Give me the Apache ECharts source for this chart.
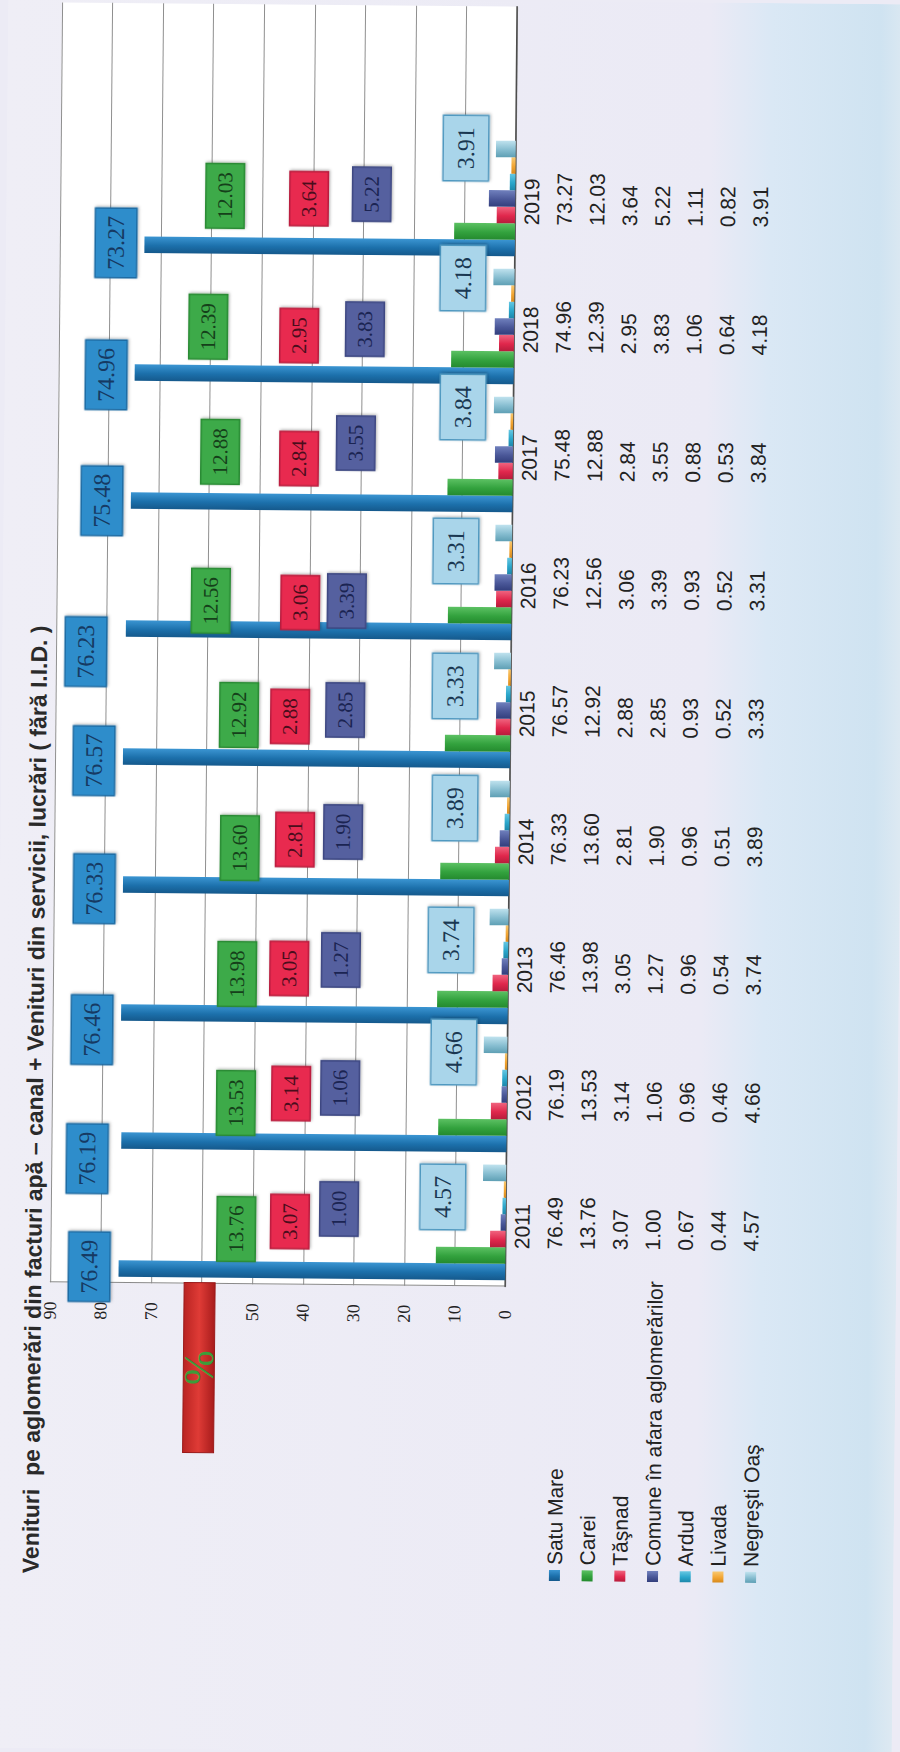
<!DOCTYPE html>
<html>
<head>
<meta charset="utf-8">
<script src="https://cdn.jsdelivr.net/npm/echarts@6/dist/echarts.min.js"></script>
<style>
  html, body { margin: 0; padding: 0; }
  body { width: 900px; height: 1752px; overflow: hidden; background: #ecebf5; position: relative; }
  /* the scanned page is turned on its side (and a hair off square) */
  #chart { position: absolute; left: 0; top: 0; width: 1752px; height: 900px;
           transform-origin: 0 0; transform: translate(-8.2px, 1747.8px) rotate(-89.465deg); }
</style>
</head>
<body>
<div id="chart"></div>
<script>
// ---------------- data ----------------
var years     = [2011, 2012, 2013, 2014, 2015, 2016, 2017, 2018, 2019];
var satuMare  = [76.49, 76.19, 76.46, 76.33, 76.57, 76.23, 75.48, 74.96, 73.27];
var carei     = [13.76, 13.53, 13.98, 13.60, 12.92, 12.56, 12.88, 12.39, 12.03];
var tasnad    = [3.07, 3.14, 3.05, 2.81, 2.88, 3.06, 2.84, 2.95, 3.64];
var comune    = [1.00, 1.06, 1.27, 1.90, 2.85, 3.39, 3.55, 3.83, 5.22];
var ardud     = [0.67, 0.96, 0.96, 0.96, 0.93, 0.93, 0.88, 1.06, 1.11];
var livada    = [0.44, 0.46, 0.54, 0.51, 0.52, 0.52, 0.53, 0.64, 0.82];
var negresti  = [4.57, 4.66, 3.74, 3.89, 3.33, 3.31, 3.84, 4.18, 3.91];
var valueTicks = [0, 10, 20, 30, 40, 50, 60, 70, 80, 90];

var titleText = 'Venituri  pe aglomerări din facturi apă – canal + Venituri din servicii, lucrări ( fără I.I.D. )';

// ---------------- layout (px, in the un-rotated frame) ----------------
var gridLeft = 466, gridTop = 54, gridW = 1280, gridH = 455;
var yearMin = 2010.5, yearMax = 2020.5;
function yearPx(y) { return gridLeft + (y - yearMin) / (yearMax - yearMin) * gridW; }
function valuePx(v) { return gridTop + (90 - v) / 90 * gridH; }

// where the hand-placed value boxes sit: shift along the year axis (px) and height (value units)
var spotSatu   = { du: [-48, -68, -67, -54, -54, -73, -50, -52, -48], level: [82.3, 82.9, 82.2, 82.0, 82.3, 84.1, 81.2, 80.6, 78.9] };
var spotCarei  = { du: [-9, -11, -10, -12, -7, -21, 0, -3, 0], level: [53.3, 53.6, 53.6, 53.3, 53.7, 59.5, 57.9, 60.5, 57.4] };
var spotTasnad = { du: [-1, -1, -4, -3, -8, -22, -6, -11, -2], level: [42.7, 42.7, 43.3, 42.4, 43.6, 41.8, 42.3, 42.5, 40.8] };
var spotComune = { du: [12, 5, 5, 5, -1, -20, 10, -4, 3], level: [33.0, 33.0, 33.1, 32.9, 32.7, 32.6, 31.1, 29.5, 28.4] };
var spotNegr   = { du: [25, 42, 26, 30, 24, 31, 47, 48, 50], level: [12.5, 10.6, 11.35, 10.8, 11.0, 11.1, 9.97, 10.2, 9.85] };

function grad(c) {
  return new echarts.graphic.LinearGradient(0, 0, 1, 0, [
    { offset: 0, color: c[0] }, { offset: 0.45, color: c[1] }, { offset: 1, color: c[2] }
  ]);
}
function spotLayout(spot) {
  return function (p) {
    var i = p.dataIndex;
    return { x: yearPx(years[i]) + spot.du[i], y: valuePx(spot.level[i]), align: 'center', verticalAlign: 'middle' };
  };
}
function boxLabel(size, color, bg, border, pad) {
  return {
    show: true, position: 'top',
    formatter: function (p) { return p.value[1].toFixed(2); },
    fontFamily: 'Liberation Serif', fontSize: size, lineHeight: size, color: color,
    backgroundColor: bg, borderColor: border, borderWidth: 1.5, padding: pad,
    shadowColor: 'rgba(0,0,0,0.3)', shadowBlur: 3, shadowOffsetX: 1, shadowOffsetY: 1
  };
}

var defs = [
  { name: 'Satu Mare', data: satuMare, colors: ['#15598c', '#1c70ab', '#3b95d2'],
    label: boxLabel(24, '#163a63', '#2d8dcb', '#1b6aa3', [8, 7, 8, 7]), spot: spotSatu },
  { name: 'Carei', data: carei, colors: ['#248a2e', '#33a23e', '#5cc163'],
    label: boxLabel(21, '#15401a', '#3daa48', '#2a8a34', [8, 8, 8, 8]), spot: spotCarei },
  { name: 'Tăşnad', data: tasnad, colors: ['#b71c3c', '#e0274c', '#f0647f'],
    label: boxLabel(21, '#4a0d1c', '#e8294f', '#b81e3e', [8, 8, 8, 8]), spot: spotTasnad },
  { name: 'Comune în afara aglomerărilor', data: comune, colors: ['#323e7c', '#4a5798', '#7080bd'],
    label: boxLabel(21, '#1b2452', '#55609f', '#3c4781', [8, 8, 8, 8]), spot: spotComune },
  { name: 'Ardud', data: ardud, colors: ['#1d87aa', '#2aa6cb', '#66c7e2'] },
  { name: 'Livada', data: livada, colors: ['#d6891c', '#f2a532', '#f8c870'] },
  { name: 'Negreşti Oaş', data: negresti, colors: ['#5e9fb4', '#86bdd0', '#bfe2ee'],
    label: boxLabel(24, '#1a3852', '#a9d5ea', '#4e98c0', [10, 11, 10, 11]), spot: spotNegr }
];

var series = defs.map(function (d) {
  var s = {
    name: d.name, type: 'bar', xAxisIndex: 0, yAxisIndex: 0,
    barWidth: 16.5, barGap: '0%',
    itemStyle: { color: grad(d.colors) },
    data: years.map(function (y, i) { return [y, d.data[i]]; })
  };
  if (d.label) { s.label = d.label; s.labelLayout = spotLayout(d.spot); }
  return s;
});

var chart = echarts.init(document.getElementById('chart'), null, { renderer: 'svg' });
chart.setOption({
  animation: false,
  backgroundColor: new echarts.graphic.LinearGradient(0, 0, 0, 1, [
    { offset: 0, color: '#efeef6' }, { offset: 0.78, color: '#ebeaf5' },
    { offset: 0.85, color: '#dae8f5' }, { offset: 0.97, color: '#cfe3f1' }, { offset: 1, color: '#dde9f2' }
  ]),
  title: {
    text: titleText, left: 175, top: 24, padding: 0,
    textStyle: { fontFamily: 'Liberation Sans', fontSize: 23, fontWeight: 'bold', color: '#2a2a2a', lineHeight: 26 }
  },
  legend: {
    orient: 'vertical', left: 167, top: 545, itemGap: 10.7, itemWidth: 11, itemHeight: 11,
    icon: 'rect', selectedMode: false,
    textStyle: { fontFamily: 'Liberation Sans', fontSize: 21, color: '#222', lineHeight: 22 }
  },
  grid: [
    { left: gridLeft, top: gridTop, width: gridW, height: gridH, show: true, backgroundColor: '#ffffff', borderWidth: 0 },
    { left: gridLeft, top: 508, width: 9 * 128, height: 1 }
  ],
  xAxis: [
    { type: 'value', gridIndex: 0, min: yearMin, max: yearMax,
      axisLine: { show: true, lineStyle: { color: '#4d4d4d', width: 1.5 } },
      axisTick: { show: false }, axisLabel: { show: false }, splitLine: { show: false } },
    { type: 'category', gridIndex: 1, data: years.map(String),
      axisLine: { show: false }, axisTick: { show: false }, splitLine: { show: false },
      axisLabel: {
        interval: 0, margin: 0,
        formatter: function (val, idx) {
          var lines = ['{c|' + val + '}'];
          defs.forEach(function (d) { lines.push('{c|' + d.data[idx].toFixed(2) + '}'); });
          return lines.join('\n');
        },
        rich: { c: { width: 53, align: 'left', fontFamily: 'Liberation Sans', fontSize: 21, color: '#222', lineHeight: 32.7 } }
      } }
  ],
  yAxis: [
    { type: 'value', gridIndex: 0, min: valueTicks[0], max: valueTicks[valueTicks.length - 1], interval: 10,
      axisLine: { show: true, lineStyle: { color: '#8a8a8a', width: 1 } },
      axisTick: { show: false },
      axisLabel: { margin: 28, align: 'center', fontFamily: 'Liberation Serif', fontSize: 18, color: '#222' },
      splitLine: { show: true, lineStyle: { color: '#8f8f8f', width: 1 } } },
    { type: 'value', gridIndex: 1, show: false }
  ],
  graphic: [
    { type: 'rect', z: 100, shape: { x: 297, y: 188, width: 170, height: 31 },
      style: { fill: new echarts.graphic.LinearGradient(0, 0, 0, 1, [
        { offset: 0, color: '#b92422' }, { offset: 0.5, color: '#df3b36' }, { offset: 1, color: '#a81c1c' }
      ]), stroke: '#9a1a1a', lineWidth: 1 } },
    { type: 'text', z: 101, x: 382, y: 203.5,
      style: { text: '%', fontFamily: 'Liberation Serif', fontSize: 42, fill: '#3d9c3a',
               align: 'center', verticalAlign: 'middle', textAlign: 'center', textVerticalAlign: 'middle' } }
  ],
  series: series
});
</script>
</body>
</html>
